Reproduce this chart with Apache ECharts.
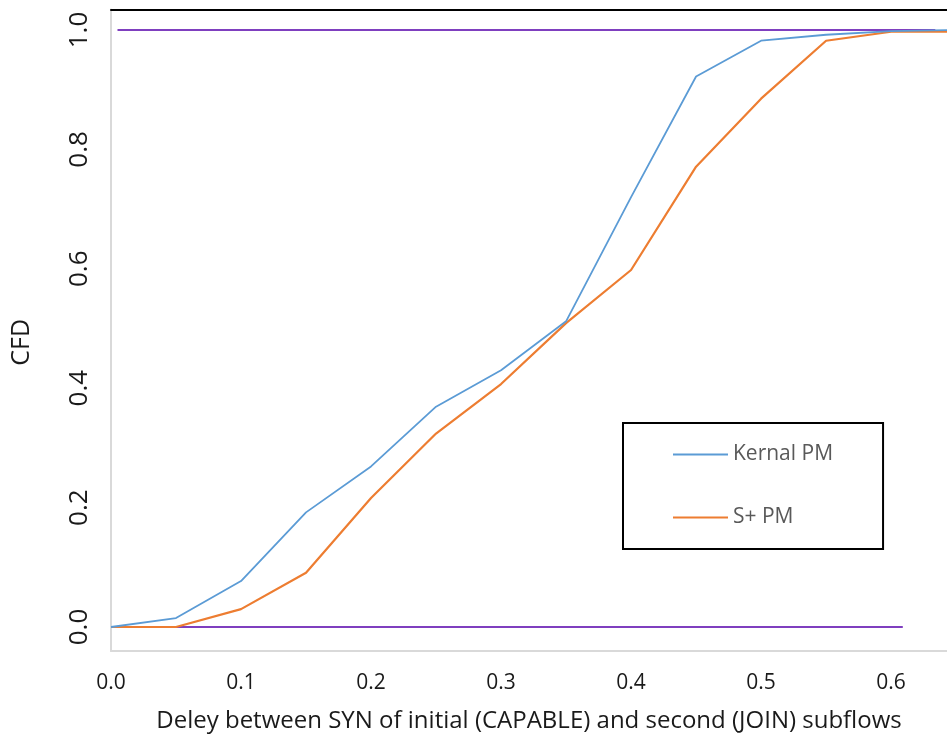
<!DOCTYPE html>
<html>
<head>
<meta charset="utf-8">
<script src="https://cdn.jsdelivr.net/npm/echarts@6/dist/echarts.min.js"></script>
<style>html,body{margin:0;padding:0;background:#fff}#c{width:947px;height:738px}</style>
</head>
<body>
<div id="c"></div>
<script>
const xValues = [0, 0.05, 0.1, 0.15, 0.2, 0.25, 0.3, 0.35, 0.4, 0.45, 0.5, 0.55, 0.6, 0.65];
const kernalPM = [0, 0.015, 0.077, 0.192, 0.269, 0.369, 0.430, 0.512, 0.720, 0.922, 0.982, 0.992, 0.998, 1.0];
const splusPM = [0, 0, 0.030, 0.091, 0.216, 0.324, 0.407, 0.509, 0.598, 0.771, 0.885, 0.982, 0.997, 0.997];
const refLow = [[0, 0], [0.609, 0]];
const refHigh = [[0.005, 1], [0.634, 1]];
const xTicks = [0, 0.1, 0.2, 0.3, 0.4, 0.5, 0.6];
const yTicks = [0, 0.2, 0.4, 0.6, 0.8, 1.0];
const seriesNames = ['Kernal PM', 'S+ PM'];
const xTitle = 'Deley between SYN of initial (CAPABLE) and second (JOIN) subflows';
const yTitle = 'CFD';

const font = '"Open Sans", "Liberation Sans", sans-serif';
const chart = echarts.init(document.getElementById('c'), null, {renderer: 'canvas'});
chart.setOption({
  animation: false,
  backgroundColor: '#ffffff',
  grid: {left: 111, top: 9.5, right: 0, bottom: 87, containLabel: false},
  legend: {
    data: seriesNames,
    orient: 'vertical',
    left: 623, top: 423,
    padding: [21, 50, 21, 50],
    itemGap: 42,
    itemWidth: 55, itemHeight: 2,
    icon: 'rect',
    borderColor: '#000', borderWidth: 2,
    textStyle: {fontFamily: font, fontSize: 21, color: '#595959'}
  },
  xAxis: [{
    type: 'value', min: 0, max: 0.643,
    axisLine: {onZero: false, lineStyle: {color: '#d9d9d9', width: 2}},
    axisTick: {show: false},
    splitLine: {show: false},
    axisLabel: {customValues: xTicks, formatter: v => v.toFixed(1), margin: 22, fontFamily: font, fontSize: 21, color: '#1a1a1a'},
    name: xTitle, nameLocation: 'middle', nameGap: 58,
    nameTextStyle: {fontFamily: font, fontSize: 24, color: '#1a1a1a'}
  }, {
    type: 'value', position: 'top', min: 0, max: 0.643,
    axisLine: {show: true, onZero: false, lineStyle: {color: '#000', width: 2}},
    axisTick: {show: false}, axisLabel: {show: false}, splitLine: {show: false}
  }],
  yAxis: {
    type: 'value', min: -0.0402, max: 1.0343,
    axisLine: {show: true, onZero: false, lineStyle: {color: '#d9d9d9', width: 2}},
    axisTick: {show: false},
    splitLine: {show: false},
    axisLabel: {customValues: yTicks, formatter: v => v.toFixed(1), rotate: 90, margin: 18, fontFamily: font, fontSize: 26, color: '#1a1a1a'},
    name: yTitle, nameLocation: 'middle', nameGap: 77, nameRotate: 90,
    nameTextStyle: {fontFamily: font, fontSize: 25, color: '#1a1a1a', padding: [0, 24, 0, 0]}
  },
  series: [
    {name: 'ref0', type: 'line', data: refLow, symbol: 'none', lineStyle: {color: '#7F3FBF', width: 2}, z: 1},
    {name: 'ref1', type: 'line', data: refHigh, symbol: 'none', lineStyle: {color: '#7F3FBF', width: 2}, z: 1},
    {name: seriesNames[0], type: 'line', data: xValues.map((x, i) => [x, kernalPM[i]]), symbol: 'none', color: '#5B9BD5', lineStyle: {color: '#5B9BD5', width: 1.8}, z: 3},
    {name: seriesNames[1], type: 'line', data: xValues.map((x, i) => [x, splusPM[i]]), symbol: 'none', color: '#ED7D31', lineStyle: {color: '#ED7D31', width: 2.2}, z: 2}
  ]
});
</script>
</body>
</html>
